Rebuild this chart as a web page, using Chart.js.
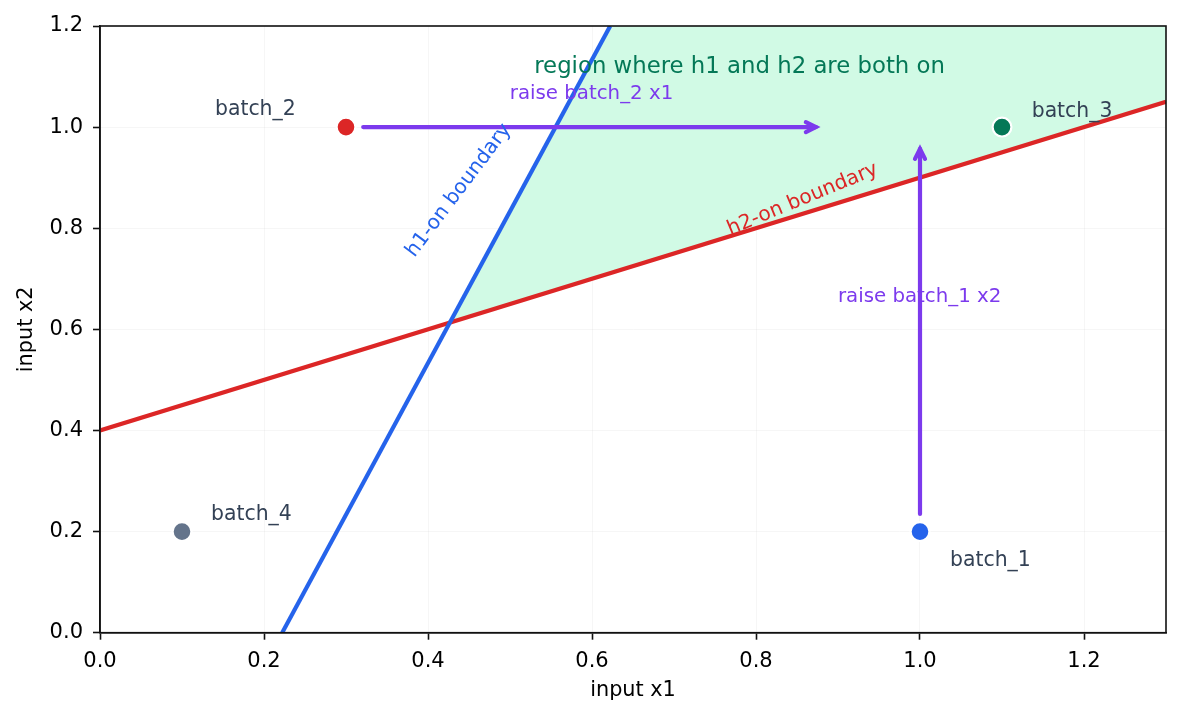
<!DOCTYPE html>
<html>
<head>
<meta charset="utf-8">
<script src="https://cdn.jsdelivr.net/npm/chart.js@4.4.1/dist/chart.umd.min.js"></script>
<style>
  html, body { margin: 0; padding: 0; background: #fff; }
</style>
</head>
<body>
<canvas id="chart" width="1184" height="720"></canvas>
<script>
// batches (input x1, input x2)
const batchNames = ['batch_1', 'batch_2', 'batch_3', 'batch_4'];
const batchX1 = [1.0, 0.3, 1.1, 0.1];
const batchX2 = [0.2, 1.0, 1.0, 0.2];
const batchColors = ['#2563eb', '#dc2626', '#047857', '#64748b'];

// boundary lines (endpoints)
const h1X1 = [0.2222, 0.6222];
const h1X2 = [0.0, 1.2];
const h2X1 = [0.0, 1.3];
const h2X2 = [0.4, 1.05];

// shaded region where both are on
const regionX1 = [0.4267, 0.6222, 1.3, 1.3, 0.4267];
const regionX2 = [0.6133, 1.2, 1.2, 1.05, 0.6133];

// arrows (tail -> tip)
const arrow1X1 = [0.321, 0.873];
const arrow1X2 = [1.0, 1.0];
const arrow2X1 = [1.0, 1.0];
const arrow2X2 = [0.235, 0.957];

const xTicks = [0, 0.2, 0.4, 0.6, 0.8, 1.0, 1.2];
const yTicks = [0, 0.2, 0.4, 0.6, 0.8, 1.0, 1.2];

const FONT = "'DejaVu Sans', sans-serif";
const purple = '#7c3aed';
const slate = '#334155';

// text notes placed in data coordinates
const notes = [
  { text: 'region where h1 and h2 are both on', x: 0.780, y: 1.108, color: '#047857', size: 22.8, align: 'center' },
  { text: 'raise batch_2 x1', x: 0.5994, y: 1.055, color: purple, size: 19.8, align: 'center' },
  { text: 'raise batch_1 x2', x: 0.9995, y: 0.6547, color: purple, size: 19.8, align: 'center' },
  { text: 'h1-on boundary', x: 0.4376, y: 0.8746, color: '#2563eb', size: 20.2, align: 'center', rot: -53, base: 'middle' },
  { text: 'h2-on boundary', x: 0.857, y: 0.857, color: '#dc2626', size: 20.2, align: 'center', rot: -22.5, base: 'middle' },
  { text: batchNames[0], x: 1.0366, y: 0.1325, color: slate, size: 20.4, align: 'left' },
  { text: batchNames[1], x: 0.1402, y: 1.0239, color: slate, size: 20.4, align: 'left' },
  { text: batchNames[2], x: 1.1362, y: 1.0194, color: slate, size: 20.4, align: 'left' },
  { text: batchNames[3], x: 0.1354, y: 0.2229, color: slate, size: 20.4, align: 'left' }
];

const pts = (xs, ys) => xs.map((v, i) => ({ x: v, y: ys[i] }));

const overlay = {
  id: 'overlay',
  afterDatasetsDraw(chart) {
    const { ctx, chartArea: a, scales: { x, y } } = chart;
    ctx.save();
    // full frame
    ctx.strokeStyle = '#111';
    ctx.lineWidth = 1.6;
    ctx.strokeRect(a.left, a.top, a.right - a.left, a.bottom - a.top);

    // arrow heads
    [3, 4].forEach(i => {
      const d = chart.getDatasetMeta(i).data;
      const tail = d[0], tip = d[d.length - 1];
      const ang = Math.atan2(tip.y - tail.y, tip.x - tail.x);
      const ux = Math.cos(ang), uy = Math.sin(ang);
      const L = 10, W = 5;
      ctx.beginPath();
      ctx.moveTo(tip.x - L * ux - W * uy, tip.y - L * uy + W * ux);
      ctx.lineTo(tip.x, tip.y);
      ctx.lineTo(tip.x - L * ux + W * uy, tip.y - L * uy - W * ux);
      ctx.strokeStyle = purple;
      ctx.lineWidth = 4.2;
      ctx.lineJoin = 'miter';
      ctx.lineCap = 'round';
      ctx.stroke();
    });

    // texts
    notes.forEach(n => {
      ctx.save();
      ctx.translate(x.getPixelForValue(n.x), y.getPixelForValue(n.y));
      if (n.rot) ctx.rotate(n.rot * Math.PI / 180);
      ctx.font = n.size + 'px ' + FONT;
      ctx.fillStyle = n.color;
      ctx.textAlign = n.align;
      ctx.textBaseline = n.base || 'alphabetic';
      ctx.fillText(n.text, 0, 0);
      ctx.restore();
    });
    ctx.restore();
  }
};

const axisCommon = (ticks, pad) => ({
  type: 'linear',
  afterBuildTicks: s => { s.ticks = ticks.map(v => ({ value: v })); },
  grid: { color: 'rgba(0,0,0,0.035)', lineWidth: 1, tickColor: '#111', tickLength: 7, tickWidth: 1.6 },
  border: { display: true, color: '#111', width: 1.6 },
  ticks: { color: '#000', padding: pad, font: { family: FONT, size: 21 }, callback: v => Number(v).toFixed(1) }
});

new Chart(document.getElementById('chart'), {
  type: 'scatter',
  data: {
    datasets: [
      { data: pts(regionX1, regionX2), showLine: true, fill: 'shape', backgroundColor: '#d1fae5',
        borderWidth: 0, borderColor: 'rgba(0,0,0,0)', pointRadius: 0, order: 10 },
      { data: pts(h1X1, h1X2), showLine: true, borderColor: '#2563eb', borderWidth: 4.2, pointRadius: 0, order: 5 },
      { data: pts(h2X1, h2X2), showLine: true, borderColor: '#dc2626', borderWidth: 4.2, pointRadius: 0, order: 5 },
      { data: pts(arrow1X1, arrow1X2), showLine: true, borderColor: purple, borderWidth: 4.2, borderCapStyle: 'round', pointRadius: 0, order: 3 },
      { data: pts(arrow2X1, arrow2X2), showLine: true, borderColor: purple, borderWidth: 4.2, borderCapStyle: 'round', pointRadius: 0, order: 3 },
      { data: pts(batchX1, batchX2), pointBackgroundColor: batchColors, pointBorderColor: '#ffffff',
        pointBorderWidth: 2.2, pointRadius: 9.4, order: 1 }
    ]
  },
  options: {
    responsive: false,
    animation: false,
    events: [],
    layout: { padding: { top: 26, right: 18, left: 0, bottom: 0 } },
    plugins: { legend: { display: false }, tooltip: { enabled: false } },
    scales: {
      x: Object.assign(axisCommon(xTicks, 9), {
        min: 0, max: 1.3,
        afterFit: s => { s.height = 87.3; },
        title: { display: true, text: 'input x1', color: '#000', font: { family: FONT, size: 20.8 }, padding: { top: 0, bottom: 17 } }
      }),
      y: Object.assign(axisCommon(yTicks, 10), {
        min: 0, max: 1.2,
        afterFit: s => { s.width = 100; },
        title: { display: true, text: 'input x2', color: '#000', font: { family: FONT, size: 20.8 }, padding: { top: 14, bottom: 0 } }
      })
    }
  },
  plugins: [overlay]
});
</script>
</body>
</html>
